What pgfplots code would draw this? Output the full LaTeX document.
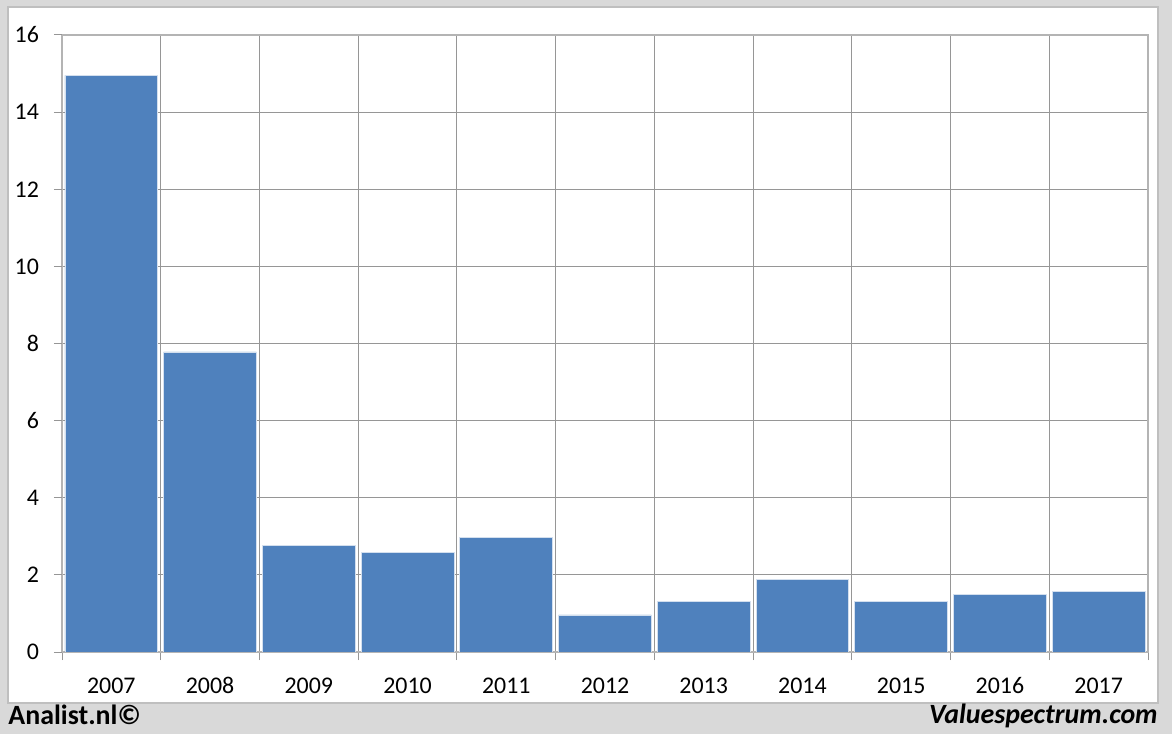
\documentclass[border=0pt]{standalone}
\usepackage{pgfplots}
\pgfplotsset{compat=1.18}
\usepackage{fontspec}
\setmainfont{Carlito}
\definecolor{barblue}{HTML}{4F81BD}
\definecolor{bggray}{HTML}{D9D9D9}
\definecolor{bordergray}{HTML}{BFBFBF}
\definecolor{gridgray}{HTML}{969696}
\definecolor{axisgray}{HTML}{B4B4B4}
\begin{document}
\begin{tikzpicture}
\fill[bggray] (0,0) rectangle (586bp,367bp);
\filldraw[fill=white, draw=bordergray, line width=0.8bp] (4bp,15.5bp) rectangle (579bp,363.5bp);
\begin{axis}[
  at={(31bp,41bp)}, anchor=south west,
  scale only axis, width=543bp, height=308.5bp,
  xmin=-0.5, xmax=10.5, ymin=0, ymax=16,
  xtick={0,...,10},
  xticklabels={2007,2008,2009,2010,2011,2012,2013,2014,2015,2016,2017},
  minor xtick={-0.5,0.5,...,10.5},
  ytick={0,2,...,16},
  xtick pos=bottom, ytick pos=left,
  major tick length=0pt,
  minor tick length=4bp,
  tick align=outside,
  ymajorgrids, xminorgrids,
  grid style={draw=gridgray, line width=0.5bp},
  minor grid style={draw=gridgray, line width=0.5bp},
  every minor tick/.style={draw=gridgray, line width=0.5bp},
  extra y ticks={0,2,...,16}, extra y tick labels={},
  extra y tick style={major tick length=4bp, grid=none, tick style={draw=gridgray, line width=0.5bp}},
  axis line style={draw=axisgray, line width=1bp},
  ticklabel style={font=\fontsize{12}{12}\selectfont},
  /pgf/number format/assume math mode=true,
  xticklabel style={anchor=base, yshift=-20.5bp},
  yticklabel style={xshift=-8bp},
]
\addplot[ybar, bar width=0.94, fill=barblue, draw=white!75!barblue, line width=0.4bp]
  coordinates {(0,14.95) (1,7.78) (2,2.77) (3,2.59) (4,2.96) (5,0.96) (6,1.30) (7,1.87) (8,1.30) (9,1.50) (10,1.58)};
\end{axis}
\node[anchor=base west, inner sep=0pt, font=\bfseries\fontsize{14}{14}\selectfont] at (4bp,5bp) {Analist.nl©};
\node[anchor=base east, inner sep=0pt, font=\bfseries\itshape\fontsize{14}{14}\selectfont] at (579bp,5.5bp) {Valuespectrum.com};
\end{tikzpicture}
\end{document}
